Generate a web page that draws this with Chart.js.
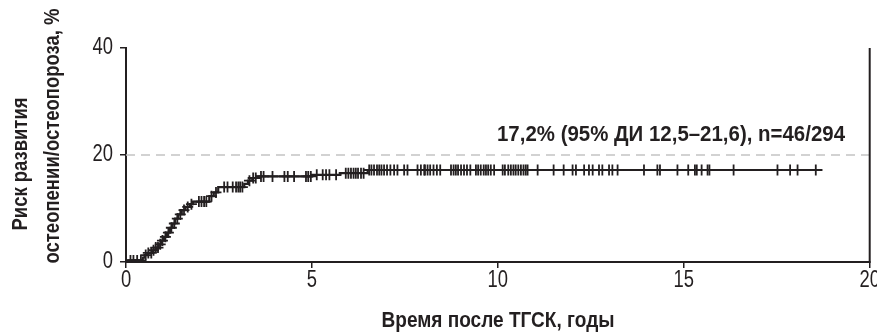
<!DOCTYPE html>
<html>
<head>
<meta charset="utf-8">
<script src="https://cdn.jsdelivr.net/npm/chart.js@4"></script>
<style>
html,body{margin:0;padding:0;background:#fff;overflow:hidden;}
#wrap{width:877px;height:334px;position:relative;}
</style>
</head>
<body>
<div id="wrap"><canvas id="c" width="877" height="334"></canvas></div>
<script>
// ---- data ----
const eventTimes = [0, 0.05, 0.45, 0.5, 0.6, 0.7, 0.8, 0.88, 0.95, 1.02, 1.1, 1.18, 1.25, 1.32, 1.4, 1.5, 1.6, 1.72, 1.8, 2.24, 2.36, 2.48, 3.18, 3.28, 3.4, 3.5, 5.0, 5.75, 6.5];
const eventRisk  = [0, 0.3, 0.8, 1.3, 1.7, 2.2, 2.7, 3.3, 4.0, 4.7, 5.5, 6.4, 7.2, 8.1, 8.9, 9.7, 10.3, 10.8, 11.3, 12.3, 13.0, 14.0, 14.6, 15.2, 15.7, 16.0, 16.3, 16.6, 17.2];
const followUpEnd = 18.73;
const censorTimes = [
  0.12, 0.2, 0.3, 0.4, 0.53, 0.6, 0.68, 0.74, 0.8, 0.86, 0.92, 0.98, 1.06, 1.14, 1.22, 1.3, 1.38, 1.46, 1.56, 1.66, 1.76,
  1.96, 2.03, 2.1, 2.16, 2.3, 2.42, 2.64, 2.73, 2.87, 2.96, 3.02, 3.07, 3.13, 3.32, 3.42,
  3.49, 3.63, 3.70, 3.94, 4.26, 4.35, 4.52, 4.84, 4.90, 4.97, 5.13, 5.29, 5.38, 5.47, 5.65,
  5.91, 5.98, 6.05, 6.12, 6.18, 6.24, 6.32, 6.39, 6.54, 6.60, 6.67, 6.75, 6.81, 6.87, 6.94, 7.02, 7.11, 7.21, 7.30,
  7.48, 7.57, 7.84, 7.93, 8.02, 8.04, 8.11, 8.18, 8.27, 8.36, 8.45, 8.74, 8.81, 8.87, 8.93, 9.01, 9.09, 9.17, 9.26,
  9.41, 9.47, 9.54, 9.62, 9.68, 9.74, 9.81, 9.90, 10.13, 10.19, 10.28, 10.35, 10.42, 10.48, 10.55, 10.62, 10.69, 10.75, 10.80,
  11.07, 11.50, 11.77, 12.01, 12.10, 12.32, 12.45, 12.55, 12.72, 12.81, 12.99, 13.08, 13.22,
  13.93, 14.29, 14.36, 14.83, 15.12, 15.30, 15.35, 15.48, 15.64, 15.69, 16.34, 17.52, 17.86, 18.06, 18.55
];
const refLevel = 20;
const xTicks = [0, 5, 10, 15, 20];
const yTicks = [0, 20, 40];
const annotationText = '17,2% (95% ДИ 12,5–21,6), n=46/294';
const xTitle = 'Время после ТГСК, годы';
const yTitleLines = ['Риск развития', 'остеопении/остеопороза, %'];

// ---- build datasets from the arrays ----
function riskAt(t){
  let v = eventRisk[0];
  for (let i = 0; i < eventTimes.length; i++) { if (eventTimes[i] <= t) v = eventRisk[i]; }
  return v;
}
const curvePts = eventTimes.map((t, i) => ({x: t, y: eventRisk[i]}));
curvePts.push({x: followUpEnd, y: eventRisk[eventRisk.length - 1]});
const censorPts = censorTimes.map(t => ({x: t, y: riskAt(t)}));

const FAM = "'Liberation Sans', Arimo, Arial, sans-serif";
const INK = '#231f20';

// draw text squeezed horizontally (condensed look)
function drawSqueezed(ctx, text, x, y, font, sx, align, rot){
  ctx.save();
  ctx.font = font;
  ctx.translate(x, y);
  if (rot) ctx.rotate(rot);
  ctx.scale(sx, 1);
  ctx.textAlign = align; ctx.textBaseline = 'middle';
  ctx.fillText(text, 0, 0);
  ctx.restore();
}
function drawFitted(ctx, text, x, y, font, width, align, rot){
  ctx.save(); ctx.font = font; const w = ctx.measureText(text).width; ctx.restore();
  drawSqueezed(ctx, text, x, y, font, width / w, align, rot);
}

const textPlugin = {
  id: 'texts',
  afterDraw(chart){
    const {ctx, chartArea: a, scales} = chart;
    ctx.save();
    // right frame line
    ctx.strokeStyle = INK; ctx.lineWidth = 2;
    ctx.beginPath(); ctx.moveTo(a.right, a.top); ctx.lineTo(a.right, a.bottom + 1); ctx.stroke();
    ctx.fillStyle = INK;
    // tick labels placed by the library's scales
    const tickFont = "23px " + FAM;
    xTicks.forEach(v => drawSqueezed(ctx, String(v), scales.x.getPixelForValue(v), 281, tickFont, 0.8, 'center'));
    yTicks.forEach(v => drawSqueezed(ctx, String(v), 113, scales.y.getPixelForValue(v), tickFont, 0.8, 'right'));
    // titles
    const bold = "bold 22px " + FAM;
    drawFitted(ctx, xTitle, 498, 321, bold, 233, 'center');
    drawFitted(ctx, yTitleLines[0], 21, 164, bold, 133, 'center', -Math.PI/2);
    drawFitted(ctx, yTitleLines[1], 53, 136, bold, 255, 'center', -Math.PI/2);
    // annotation
    drawFitted(ctx, annotationText, 497, 135, bold, 348, 'left');
    ctx.restore();
  }
};

new Chart(document.getElementById('c'), {
  type: 'scatter',
  data: {
    datasets: [
      {
        label: 'ref', type: 'line',
        data: [{x: xTicks[0], y: refLevel}, {x: xTicks[xTicks.length - 1], y: refLevel}],
        borderColor: '#c4c4c4', borderWidth: 1.5, borderDash: [9, 6], pointRadius: 0, order: 3
      },
      {
        label: 'curve', type: 'line', data: curvePts, stepped: 'before',
        borderColor: INK, borderWidth: 2.2, pointRadius: 0, fill: false, order: 2
      },
      {
        label: 'censored', data: censorPts, pointStyle: 'cross', pointRadius: 5.5,
        borderColor: INK, borderWidth: 1.8, backgroundColor: INK, order: 1
      }
    ]
  },
  options: {
    responsive: false, animation: false,
    layout: {padding: {top: 48, right: 7, left: 0, bottom: 0}},
    plugins: {legend: {display: false}, tooltip: {enabled: false}},
    scales: {
      x: {
        type: 'linear', min: 0, max: 20,
        afterBuildTicks(s){ s.ticks = xTicks.map(v => ({value: v})); },
        afterFit(s){ s.paddingRight = 0; s.paddingLeft = 0; s.height = 72; },
        ticks: {font: {family: FAM, size: 21}, color: 'rgba(0,0,0,0)', padding: 2},
        grid: {drawOnChartArea: false, drawTicks: true, tickLength: 6, color: INK, lineWidth: 1.5},
        border: {color: INK, width: 2}
      },
      y: {
        min: 0, max: 40,
        afterBuildTicks(s){ s.ticks = yTicks.map(v => ({value: v})); },
        afterFit(s){ s.width = 126; },
        ticks: {font: {family: FAM, size: 21}, color: 'rgba(0,0,0,0)', padding: 6},
        grid: {drawOnChartArea: false, drawTicks: true, tickLength: 6, color: INK, lineWidth: 1.5},
        border: {color: INK, width: 2}
      }
    }
  },
  plugins: [textPlugin]
});
</script>
</body>
</html>
